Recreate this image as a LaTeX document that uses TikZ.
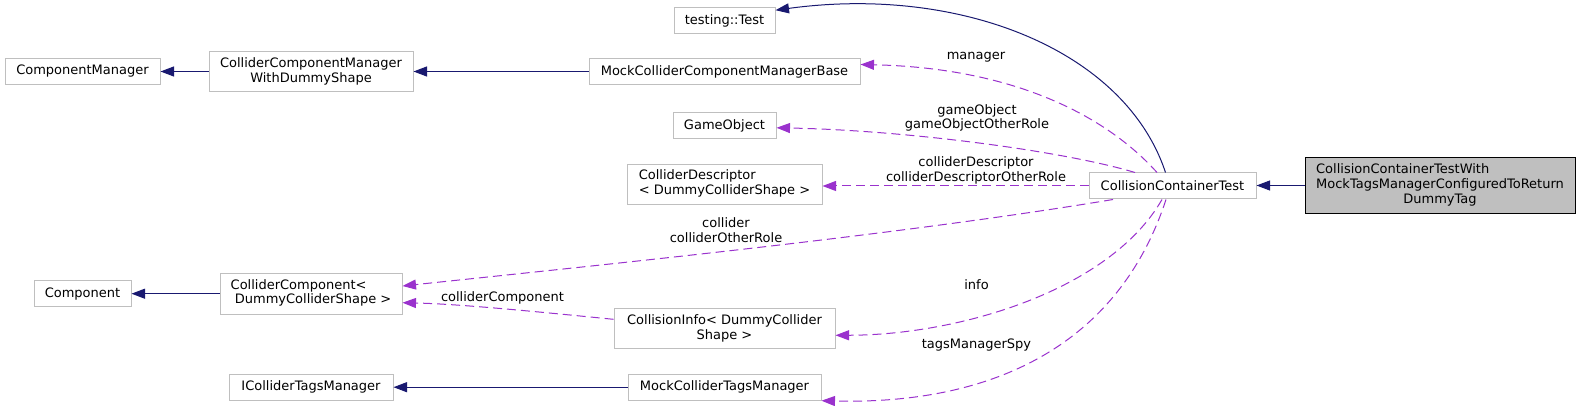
\documentclass[tikz,border=0pt]{standalone}
\usepackage{fontspec}
\setmainfont{DejaVu Sans}
\usetikzlibrary{arrows.meta,calc}
\definecolor{edgeblue}{HTML}{191970}
\definecolor{edgepurple}{HTML}{9A32CD}
\definecolor{boxgray}{HTML}{BFBFBF}
\begin{document}
\begin{tikzpicture}[x=1pt,y=-1pt,
  font=\fontsize{13}{14.7}\selectfont,
  cls/.style={draw=boxgray, line width=1pt, fill=white, inner sep=0pt},
  mainbox/.style={draw=black, line width=1pt, fill=boxgray, inner sep=0pt},
  inherit/.style={draw=edgeblue, line width=1pt, -{Triangle[length=13.5pt,width=10pt]}},
  usage/.style={draw=edgepurple, line width=1pt, dash pattern=on 9pt off 5pt, -{Triangle[length=13.5pt,width=10pt]}},
  lbl/.style={inner sep=0pt, align=center}
]
\useasboundingbox (0,0) rectangle (1581,406);

% nodes
\node[cls, minimum width=155pt, minimum height=26pt] (cm) at (82.5,71.5) {ComponentManager};
\node[cls, align=center, minimum width=204pt, minimum height=40pt] (ccm) at (311,71.5) {ColliderComponentManager\\WithDummyShape};
\node[cls, minimum width=271pt, minimum height=26pt] (mccmb) at (724.5,71.5) {MockColliderComponentManagerBase};
\node[cls, minimum width=101pt, minimum height=26pt] (tt) at (724.5,20.7) {testing::Test};
\node[cls, minimum width=103pt, minimum height=26pt] (go) at (724.5,125.8) {GameObject};
\node[cls, minimum width=195pt, minimum height=40pt] (cd) at (724.5,184.3) {\begin{tabular}{@{}l@{}}ColliderDescriptor\\< DummyColliderShape >\end{tabular}};
\node[cls, minimum width=167pt, minimum height=26pt] (cct) at (1172.5,186) {CollisionContainerTest};
\node[mainbox, minimum width=270pt, minimum height=55pt] (cctw) at (1440,185.5) {\begin{tabular}{@{}l@{}}CollisionContainerTestWith\\MockTagsManagerConfiguredToReturn\\\multicolumn{1}{@{}c@{}}{DummyTag}\end{tabular}};
\node[cls, minimum width=97pt, minimum height=26pt] (comp) at (82.5,293.7) {Component};
\node[cls, minimum width=182pt, minimum height=41pt] (cc) at (311,293.7) {\begin{tabular}{@{}l@{}}ColliderComponent<\\\ DummyColliderShape >\end{tabular}};
\node[cls, align=center, minimum width=221pt, minimum height=40pt] (ci) at (724.5,328.3) {CollisionInfo< DummyCollider\\Shape >};
\node[cls, minimum width=164pt, minimum height=26pt] (ictm) at (311,387.2) {IColliderTagsManager};
\node[cls, minimum width=193pt, minimum height=26pt] (mctm) at (724.5,387.2) {MockColliderTagsManager};

% inheritance edges
\draw[inherit] (ccm.west) -- (cm.east);
\draw[inherit] (mccmb.west) -- (ccm.east);
\draw[inherit] (cc.west) -- (comp.east);
\draw[inherit] (mctm.west) -- (ictm.east);
\draw[inherit] (cctw.west) -- (cct.east |- cctw.west);
\draw[inherit] ($(cct.north)+(-7,0)$) .. controls (1125,50) and (960,-15) .. ($(tt.north east)+(0,3)$);

% usage edges
\draw[usage] ($(cct.north)+(-15.5,0)$) .. controls (1110,120) and (1020,68) .. ($(mccmb.east)+(0,-7)$);
\draw[usage] ($(cct.north)+(-37.5,0)$) .. controls (1060,150) and (900,130) .. ($(go.east)+(0,2)$);
\draw[usage] (cct.west) -- (cct.west -| cd.east);
\draw[usage] ($(cct.south)+(-59.5,0)$) .. controls (900,235) and (600,265) .. ($(cc.east)+(0,-7.7)$);
\draw[usage] ($(ci.west)+(0,-9)$) .. controls (540,312) and (460,304) .. ($(cc.east)+(0,9)$);
\draw[usage] ($(cct.south)+(-10.5,0)$) .. controls (1110,290) and (960,335) .. ($(ci.east)+(0,7)$);
\draw[usage] ($(cct.south)+(-6.5,0)$) .. controls (1120,340) and (1000,405) .. (mctm.south east);

% labels
\node[lbl, anchor=base] (lmanager) at (976,60) {manager};
\node[lbl] (lgo) at (977,118) {gameObject\\gameObjectOtherRole};
\node[lbl] (lcd) at (976,170.3) {colliderDescriptor\\colliderDescriptorOtherRole};
\node[lbl] (lcoll) at (726,230) {collider\\colliderOtherRole};
\node[lbl, anchor=base] (lcc) at (502.5,301.5) {colliderComponent};
\node[lbl, anchor=base] (linfo) at (976.5,289) {info};
\node[lbl, anchor=base] (ltms) at (976.5,348.2) {tagsManagerSpy};
\end{tikzpicture}
\end{document}
